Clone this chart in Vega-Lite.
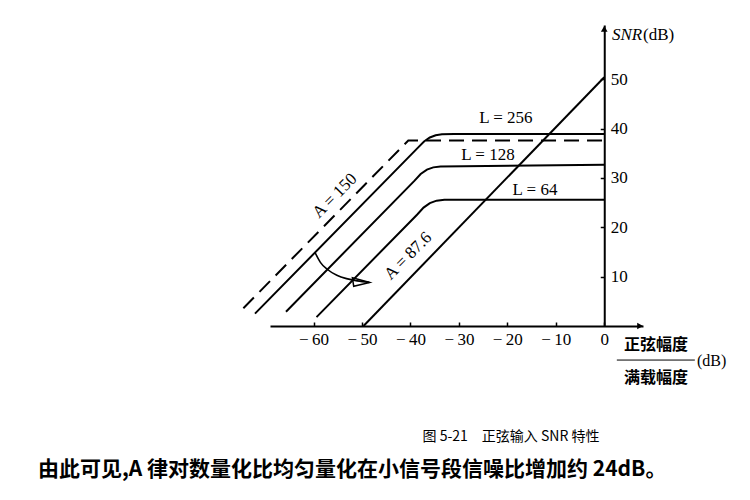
{
  "$schema": "https://vega.github.io/schema/vega-lite/v6.json",
  "width": 373,
  "height": 301,
  "autosize": {"type": "none"},
  "padding": {"left": 270, "top": 25, "right": 107, "bottom": 174},
  "background": "white",
  "config": {"view": {"stroke": null}, "font": "Liberation Serif"},
  "datasets": {
    "curves": [
      {"curve": "L=256", "x": -72.1, "snr": 2.5},
      {"curve": "L=256", "x": -38.5, "snr": 36.1},
      {"curve": "L=256", "x": -37.2, "snr": 37.4},
      {"curve": "L=256", "x": -36.0, "snr": 38.2},
      {"curve": "L=256", "x": -34.8, "snr": 38.65},
      {"curve": "L=256", "x": -33.5, "snr": 38.85},
      {"curve": "L=256", "x": -31.0, "snr": 38.9},
      {"curve": "L=256", "x": 0, "snr": 38.9},
      {"curve": "L=128", "x": -65.7, "snr": 2.9},
      {"curve": "L=128", "x": -39.2, "snr": 29.4},
      {"curve": "L=128", "x": -37.9, "snr": 30.8},
      {"curve": "L=128", "x": -36.6, "snr": 31.7},
      {"curve": "L=128", "x": -35.3, "snr": 32.15},
      {"curve": "L=128", "x": -33.8, "snr": 32.3},
      {"curve": "L=128", "x": 0, "snr": 32.7},
      {"curve": "L=64", "x": -59.4, "snr": 1.8},
      {"curve": "L=64", "x": -38.6, "snr": 22.6},
      {"curve": "L=64", "x": -37.3, "snr": 24.0},
      {"curve": "L=64", "x": -36.0, "snr": 24.9},
      {"curve": "L=64", "x": -34.6, "snr": 25.4},
      {"curve": "L=64", "x": -33.0, "snr": 25.6},
      {"curve": "L=64", "x": 0, "snr": 25.6},
      {"curve": "uniform", "x": -49.7, "snr": 0},
      {"curve": "uniform", "x": 0, "snr": 50.4},
      {"curve": "A=150", "x": -74.5, "snr": 3.6},
      {"curve": "A=150", "x": -40.45, "snr": 37.6},
      {"curve": "A=150", "x": 0, "snr": 37.6}
    ],
    "arc": [
      {"x": -59.7, "snr": 14.9},
      {"x": -58.6, "snr": 12.9},
      {"x": -57.2, "snr": 11.5},
      {"x": -55.2, "snr": 10.3},
      {"x": -53.2, "snr": 9.6},
      {"x": -51.0, "snr": 9.15},
      {"x": -48.5, "snr": 8.85}
    ],
    "curveLabels": [
      {"text": "L = 256", "x": -20.3, "snr": 42.2},
      {"text": "L = 128", "x": -24.0, "snr": 34.7},
      {"text": "L = 64", "x": -14.3, "snr": 27.6}
    ],
    "paramLabels": [
      {"text": "A = 150", "x": -55.6, "snr": 26.4},
      {"text": "A = 87.6", "x": -40.5, "snr": 14.2}
    ]
  },
  "layer": [
    {
      "data": {"name": "curves"},
      "transform": [{"filter": "datum.curve !== 'A=150'"}],
      "mark": {"type": "line", "color": "black", "strokeWidth": 2},
      "encoding": {
        "x": {
          "field": "x",
          "type": "quantitative",
          "scale": {"domain": [-69, 8], "nice": false, "zero": false},
          "axis": {
            "title": null,
            "grid": false,
            "values": [-60, -50, -40, -30, -20, -10, 0],
            "labelExpr": "datum.value < 0 ? '\u2212\u2009' + abs(datum.value) : '0'",
            "domainColor": "black",
            "domainWidth": 2,
            "tickColor": "black",
            "tickWidth": 1.5,
            "tickSize": -4,
            "labelFont": "Liberation Serif",
            "labelFontSize": 17,
            "labelColor": "black",
            "labelPadding": 9,
            "labelFlush": false,
            "labelOverlap": false
          }
        },
        "y": {
          "field": "snr",
          "type": "quantitative",
          "scale": {"domain": [0, 61], "nice": false},
          "axis": {
            "title": null,
            "orient": "right",
            "offset": -38.75,
            "grid": false,
            "values": [10, 20, 30, 40, 50],
            "domainColor": "black",
            "domainWidth": 2,
            "tickColor": "black",
            "tickWidth": 1.5,
            "tickSize": -4,
            "labelFont": "Liberation Serif",
            "labelFontSize": 17,
            "labelColor": "black",
            "labelPadding": 10,
            "labelAlign": "left",
            "labelBaseline": "middle"
          }
        },
        "detail": {"field": "curve"}
      }
    },
    {
      "data": {"name": "curves"},
      "transform": [{"filter": "datum.curve === 'A=150'"}],
      "mark": {"type": "line", "color": "black", "strokeWidth": 2, "strokeDash": [15, 8]},
      "encoding": {
        "x": {"field": "x", "type": "quantitative"},
        "y": {"field": "snr", "type": "quantitative"}
      }
    },
    {
      "data": {"name": "arc"},
      "mark": {"type": "line", "color": "black", "strokeWidth": 1.6, "interpolate": "monotone"},
      "encoding": {
        "x": {"field": "x", "type": "quantitative"},
        "y": {"field": "snr", "type": "quantitative"}
      }
    },
    {
      "data": {"values": [{}]},
      "mark": {"type": "point", "shape": "M-1,-0.45L1,0.1L-0.85,0.55Z", "size": 300, "filled": false, "color": "black", "strokeWidth": 1.5, "opacity": 1},
      "encoding": {"x": {"datum": -50.2}, "y": {"datum": 9.0}}
    },
    {
      "data": {"values": [{}]},
      "mark": {"type": "point", "shape": "triangle-up", "size": 45, "filled": true, "color": "black", "opacity": 1},
      "encoding": {"x": {"datum": 0}, "y": {"datum": 60.2}}
    },
    {
      "data": {"values": [{}]},
      "mark": {"type": "point", "shape": "triangle-right", "size": 45, "filled": true, "color": "black", "opacity": 1},
      "encoding": {"x": {"datum": 7.4}, "y": {"datum": 0}}
    },
    {
      "data": {"name": "curveLabels"},
      "mark": {"type": "text", "font": "Liberation Serif", "fontSize": 17, "color": "black"},
      "encoding": {
        "x": {"field": "x", "type": "quantitative"},
        "y": {"field": "snr", "type": "quantitative"},
        "text": {"field": "text"}
      }
    },
    {
      "data": {"name": "paramLabels"},
      "mark": {"type": "text", "font": "Liberation Serif", "fontSize": 17, "angle": -45, "color": "black"},
      "encoding": {
        "x": {"field": "x", "type": "quantitative"},
        "y": {"field": "snr", "type": "quantitative"},
        "text": {"field": "text"}
      }
    },
    {
      "data": {"values": [{}]},
      "mark": {"type": "text", "text": "SNR", "font": "Liberation Serif", "fontStyle": "italic", "fontSize": 17, "align": "left", "color": "black"},
      "encoding": {"x": {"datum": 1.6}, "y": {"datum": 59.0}}
    },
    {
      "data": {"values": [{}]},
      "mark": {"type": "text", "text": "(dB)", "font": "Liberation Serif", "fontSize": 17, "align": "left", "color": "black"},
      "encoding": {"x": {"datum": 8.0}, "y": {"datum": 59.0}}
    },
    {
      "data": {"values": [{}]},
      "mark": {"type": "text", "text": "正弦幅度", "font": "Noto Sans CJK SC", "fontWeight": "bold", "fontSize": 16, "color": "black"},
      "encoding": {"x": {"datum": 10.7}, "y": {"datum": -3.95}}
    },
    {
      "data": {"values": [{}]},
      "mark": {"type": "rule", "color": "black", "strokeWidth": 1},
      "encoding": {"x": {"datum": 2.6}, "x2": {"datum": 18.7}, "y": {"datum": -6.9}}
    },
    {
      "data": {"values": [{}]},
      "mark": {"type": "text", "text": "满载幅度", "font": "Noto Sans CJK SC", "fontWeight": "bold", "fontSize": 16, "color": "black"},
      "encoding": {"x": {"datum": 10.7}, "y": {"datum": -10.45}}
    },
    {
      "data": {"values": [{}]},
      "mark": {"type": "text", "text": "(dB)", "font": "Liberation Serif", "fontSize": 16, "align": "left", "color": "black"},
      "encoding": {"x": {"datum": 19.15}, "y": {"datum": -7.0}}
    },
    {
      "data": {"values": [{}]},
      "mark": {"type": "text", "text": "图 5-21　正弦输入 SNR 特性", "font": "Noto Sans CJK SC", "fontSize": 14, "color": "black"},
      "encoding": {"x": {"datum": -19.25}, "y": {"datum": -22.5}}
    },
    {
      "data": {"values": [{}]},
      "mark": {"type": "text", "text": "由此可见,A 律对数量化比均匀量化在小信号段信噪比增加约 24dB。", "font": "Noto Sans CJK SC", "fontWeight": "bold", "fontSize": 21, "align": "left", "color": "black"},
      "encoding": {"x": {"datum": -116.9}, "y": {"datum": -29.2}}
    }
  ]
}
